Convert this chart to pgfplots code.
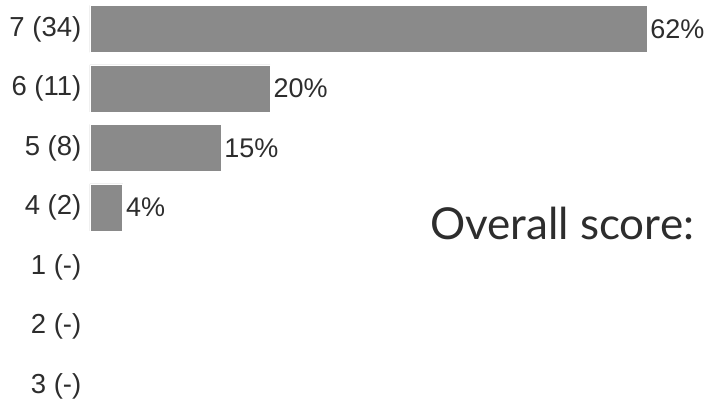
\documentclass[border=0pt]{standalone}
\usepackage{pgfplots}
\pgfplotsset{compat=1.18}
\usepackage{fontspec}
\setmainfont{Liberation Sans}
\newfontfamily\handfont{Lato}
\definecolor{barfill}{RGB}{138,138,138}
\definecolor{txt}{RGB}{45,45,45}
\begin{document}
\begin{tikzpicture}[x=1pt,y=1pt]
\useasboundingbox (0,0) rectangle (705,405);
\clip (0,0) rectangle (705,405);
\begin{axis}[
  at={(90pt,0pt)}, anchor=south west,
  scale only axis, width=615pt, height=405pt,
  xbar, bar width=0.79,
  xmin=0, xmax=37.54,
  ymin=-0.487, ymax=6.32, y dir=reverse,
  ytick={0,1,2,3,4,5,6},
  yticklabels={7 (34),6 (11),5 (8),4 (2),1 (-),2 (-),3 (-)},
  yticklabel style={font=\fontsize{27.5}{30}\selectfont, text=txt, inner sep=0pt, xshift=-8.5pt},
  xtick=\empty,
  axis line style={draw=none},
  major tick length=0pt,
  clip=false,
  point meta=explicit symbolic,
  nodes near coords,
  nodes near coords style={font=\fontsize{27}{30}\selectfont, text=txt, inner sep=0pt, anchor=west, xshift=3pt},
]
\addplot[fill=barfill, draw=white, line width=0.6pt] table[x=c, y=y, meta=lab] {
y c lab
0 34 62\%
1 11 20\%
2 8 15\%
3 2 4\%
};
\end{axis}
\node[anchor=base west, inner sep=0pt, text=txt, font=\handfont\fontsize{44}{46}\selectfont] at (430,165) {Overall score:};
\end{tikzpicture}
\end{document}
